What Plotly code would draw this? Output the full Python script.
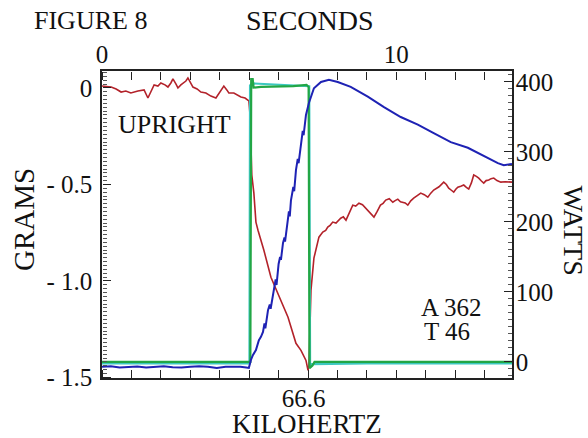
import plotly.graph_objects as go

# ---------------- data ----------------
# red trace: GRAMS (left axis) vs SECONDS
red_t = [0.00, 0.31, 0.48, 0.65, 0.81, 0.98, 1.22, 1.43, 1.56, 1.66, 1.77, 1.90, 2.00, 2.14,
         2.24, 2.34, 2.41, 2.51, 2.58, 2.68, 2.75, 2.85, 2.92, 3.02, 3.09, 3.23, 3.36, 3.53,
         3.70, 3.87, 4.01, 4.14, 4.24, 4.31, 4.48, 4.62, 4.72, 4.86, 4.99,
         5.03, 5.06, 5.09, 5.16, 5.23, 5.30, 5.50, 5.74, 5.98, 6.32, 6.59, 6.76, 6.93, 7.00,
         7.03, 7.10, 7.20, 7.30, 7.37, 7.50, 7.60, 7.67, 7.75, 7.84, 7.95, 8.11, 8.20, 8.29,
         8.40, 8.52, 8.62, 8.73, 8.85, 8.96, 9.10, 9.24, 9.35, 9.46, 9.55, 9.64, 9.76, 9.88,
         9.96, 10.05, 10.14, 10.22, 10.30, 10.39, 10.49, 10.59, 10.70, 10.83, 10.95, 11.07,
         11.17, 11.27, 11.45, 11.61, 11.70, 11.78, 11.87, 11.95, 12.02, 12.09, 12.19, 12.29,
         12.38, 12.46, 12.55, 12.63, 12.72, 12.80, 12.89, 12.97, 13.05, 13.14, 13.22, 13.31,
         13.42, 13.55, 13.70, 13.93]
red_g = [0.010, 0.005, -0.005, -0.021, -0.016, -0.026, -0.016, -0.010, -0.052, -0.021, 0.016,
         0.010, 0.026, 0.016, 0.005, 0.026, 0.047, 0.021, 0.000, 0.016, 0.026, 0.036, 0.052,
         0.026, 0.005, -0.005, -0.021, -0.026, -0.042, -0.052, -0.021, 0.010, -0.010, -0.026,
         -0.026, -0.036, -0.047, -0.052, -0.067,
         -0.140, -0.322, -0.451, -0.545, -0.695, -0.737, -0.841, -0.981, -1.064, -1.188,
         -1.323, -1.360, -1.412, -1.463,
         -1.440, -1.048, -0.882, -0.815, -0.773, -0.747, -0.738, -0.721, -0.712, -0.695,
         -0.700, -0.675, -0.668, -0.685, -0.650, -0.607, -0.612, -0.597, -0.605, -0.623,
         -0.648, -0.669, -0.640, -0.607, -0.598, -0.581, -0.574, -0.592, -0.584, -0.576,
         -0.590, -0.592, -0.596, -0.607, -0.585, -0.571, -0.560, -0.545, -0.553, -0.566,
         -0.545, -0.529, -0.512, -0.488, -0.500, -0.519, -0.530, -0.540, -0.525, -0.514,
         -0.509, -0.503, -0.515, -0.524, -0.492, -0.451, -0.458, -0.467, -0.482, -0.493,
         -0.480, -0.477, -0.470, -0.467, -0.480, -0.488, -0.486, -0.488]

# blue trace (drawn on the right-hand scale)
blue_t = [0.00, 0.30, 0.60, 0.90, 1.20, 1.50, 1.80, 2.10, 2.40, 2.70, 3.00, 3.30, 3.60, 3.90,
          4.20, 4.50, 4.70, 4.90, 4.99,
          5.06, 5.13, 5.23, 5.33, 5.40, 5.47, 5.52, 5.55, 5.64, 5.70, 5.73, 5.84, 5.90, 5.93,
          6.00, 6.05, 6.08, 6.15, 6.20, 6.22, 6.30, 6.35, 6.38, 6.42, 6.50, 6.53, 6.59, 6.65,
          6.68, 6.76, 6.82, 6.85, 6.93, 7.03, 7.20, 7.44, 7.71, 8.01, 8.45, 9.03, 9.58, 10.15,
          10.73, 11.27, 11.85, 12.43, 12.97, 13.45, 13.65, 13.93]
blue_w = [-7.0, -6.0, -8.0, -7.0, -6.5, -8.0, -7.0, -6.0, -7.5, -8.0, -7.0, -6.0, -7.0, -8.5,
          -7.0, -6.5, -7.0, -8.0, -8.6,
          2.9, 10, 17, 31, 36, 43, 55, 48, 74, 82, 76, 107, 118, 110,
          140, 150, 146, 170, 178, 172, 200, 215, 208, 231, 250, 244, 274, 290,
          284, 313, 330, 324, 353, 370, 391, 400, 403, 400, 393, 379, 364, 350,
          339, 327, 314, 306, 294, 284, 281, 283]

# green trace: WATTS (right axis)
green_t = [0.00, 2.00, 4.00, 5.04, 5.07, 5.12, 5.15, 5.40, 6.00, 6.50, 6.95, 7.02, 7.05,
           7.15, 7.22, 9.00, 11.00, 13.93]
green_w = [0, 0.5, 0, 0, 404, 404, 392, 393, 394, 394, 396, 393, -9, -5, 0, 0.5, 0, 0]

# cyan companion trace
cyan_t = [0.00, 4.00, 5.01, 5.03, 5.10, 7.04, 7.07, 7.12, 9.00, 13.93]
cyan_w = [-2, -2, -2, 395, 398, 394, -8, -3, -2, -2]

sec_ticks = [0, 10]
sec_labels = ["0", "10"]
gram_ticks = [0, -0.5, -1.0, -1.5]
gram_labels = ["0", "- 0.5", "- 1.0", "- 1.5"]
watt_ticks = [0, 100, 200, 300, 400]
khz_ticks = [6.85]
khz_labels = ["66.6"]

X_RANGE = [0, 13.93]
G_RANGE = [-1.503, 0.088]
W_RANGE = [-22.9, 415.7]

# ---------------- figure ----------------
FONT = "Liberation Serif"
AX = "#222222"
MINOR = "#555555"

fig = go.Figure()
fig.add_trace(go.Scatter(x=cyan_t, y=cyan_w, xaxis="x", yaxis="y2", mode="lines",
                         line=dict(color="#3cc8c0", width=2.2), showlegend=False))
fig.add_trace(go.Scatter(x=green_t, y=green_w, xaxis="x", yaxis="y2", mode="lines",
                         line=dict(color="#22a645", width=2.2), showlegend=False))
fig.add_trace(go.Scatter(x=blue_t, y=blue_w, xaxis="x", yaxis="y2", mode="lines",
                         line=dict(color="#1e22b4", width=2), showlegend=False))
fig.add_trace(go.Scatter(x=red_t, y=red_g, xaxis="x", yaxis="y", mode="lines",
                         line=dict(color="#b3222a", width=1.6), showlegend=False))
# invisible anchors for the helper axes (bottom labels and tick marks)
for xa, ya in [("x2", "y"), ("x3", "y"), ("x4", "y"), ("x", "y3"), ("x", "y4"),
               ("x", "y5"), ("x", "y6")]:
    fig.add_trace(go.Scatter(x=[7], y=[-0.5], xaxis=xa, yaxis=ya, mode="markers",
                             marker=dict(opacity=0), showlegend=False, hoverinfo="skip"))

tickfont = dict(family=FONT, size=25, color="#111")
base = dict(showgrid=False, zeroline=False)
# helper axes: ticks drawn "outside" from the opposite side so they point into the plot
helper = dict(showgrid=False, zeroline=False, showline=False, showticklabels=False,
              anchor="free", ticks="outside")

fig.update_layout(
    width=588, height=438,
    margin=dict(l=102, r=76, t=71, b=60),
    paper_bgcolor="white", plot_bgcolor="white",
    font=dict(family=FONT, color="#111"),
    # labelled axes
    xaxis=dict(side="top", range=X_RANGE, tickmode="array", tickvals=sec_ticks,
               ticktext=sec_labels, ticks="", tickfont=tickfont, ticklabelstandoff=-4,
               showline=True, linecolor=AX, linewidth=1.5, **base),
    xaxis2=dict(side="bottom", overlaying="x", anchor="y", range=X_RANGE, tickmode="array",
                tickvals=khz_ticks, ticktext=khz_labels, ticks="", tickfont=tickfont,
                ticklabelstandoff=-3,
                showline=True, linecolor=AX, linewidth=1.5, **base),
    yaxis=dict(range=G_RANGE, tickmode="array", tickvals=gram_ticks, ticktext=gram_labels,
               ticks="", tickfont=tickfont, ticklabelstandoff=3,
               showline=True, linecolor=AX, linewidth=1.5, **base),
    yaxis2=dict(overlaying="y", side="right", anchor="x", range=W_RANGE, tickmode="array",
                tickvals=watt_ticks, ticks="", tickfont=tickfont, ticklabelstandoff=-3,
                showline=True, linecolor=AX, linewidth=1.5, **base),
    # tick marks along the top edge (pointing down)
    xaxis3=dict(side="bottom", overlaying="x", position=1, range=X_RANGE,
                tickmode="linear", tick0=0, dtick=1, ticklen=8, tickcolor=AX, **helper),
    # tick marks along the bottom edge (pointing up)
    xaxis4=dict(side="top", overlaying="x", position=0, range=X_RANGE,
                tickmode="linear", tick0=0, dtick=1, ticklen=8, tickcolor=AX, **helper),
    # fine ticks along the left edge (pointing right)
    yaxis3=dict(side="right", overlaying="y", position=0, range=G_RANGE,
                tickmode="linear", tick0=0, dtick=0.02, ticklen=4, tickcolor=MINOR, **helper),
    # major ticks along the left edge
    yaxis5=dict(side="right", overlaying="y", position=0, range=G_RANGE,
                tickmode="array", tickvals=gram_ticks, ticklen=8, tickcolor=AX, **helper),
    # fine ticks along the right edge (pointing left)
    yaxis4=dict(side="left", overlaying="y", position=1, range=W_RANGE,
                tickmode="linear", tick0=0, dtick=10, ticklen=4, tickcolor=MINOR, **helper),
    # major ticks along the right edge
    yaxis6=dict(side="left", overlaying="y", position=1, range=W_RANGE,
                tickmode="array", tickvals=watt_ticks, ticklen=8, tickcolor=AX, **helper),
)

def note(text, x, y, size=26, angle=0, xanchor="center"):
    fig.add_annotation(text=text, x=x, y=y, xref="paper", yref="paper", showarrow=False,
                       xanchor=xanchor, yanchor="middle", textangle=angle,
                       font=dict(family=FONT, size=size, color="#111"))

note("FIGURE 8", -0.029, 1.166, size=26)
note("SECONDS", 0.507, 1.166, size=28)
note("UPRIGHT", 0.178, 0.827, size=26)
note("A 362", 0.774, 0.231, size=25, xanchor="left")
note("T 46", 0.781, 0.150, size=25, xanchor="left")
note("GRAMS", -0.190, 0.515, size=29, angle=-90)
note("WATTS", 1.150, 0.482, size=28, angle=90)
note("KILOHERTZ", 0.5, -0.150, size=27)

fig.write_html("out.html")
